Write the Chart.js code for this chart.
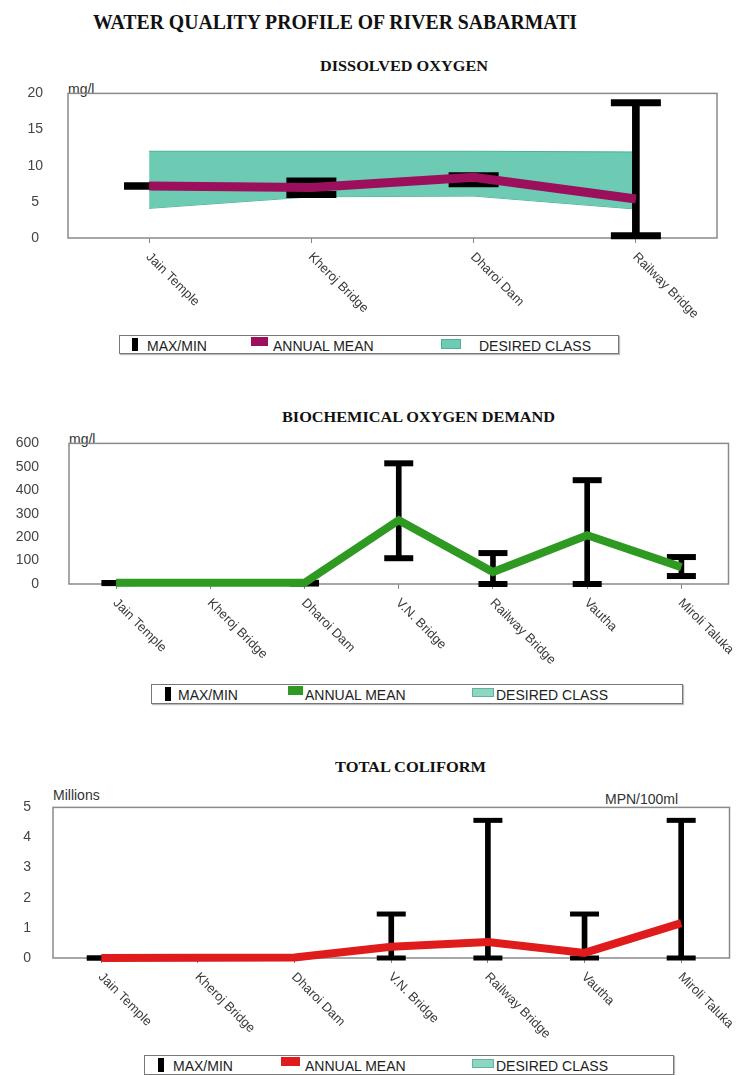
<!DOCTYPE html>
<html>
<head>
<meta charset="utf-8">
<script src="https://cdn.jsdelivr.net/npm/chart.js@4.4.1/dist/chart.umd.min.js"></script>
<style>
body { margin:0; background:#fff; width:749px; height:1075px; position:relative; overflow:hidden; font-family:'Liberation Sans', Arial, sans-serif; }
canvas { position:absolute; }
.ttl { position:absolute; font-family:'Liberation Serif', 'Times New Roman', serif; font-weight:bold; line-height:1; white-space:nowrap; transform-origin:0 0; color:#111; }
.unit { position:absolute; font-size:14px; line-height:1; color:#333; white-space:nowrap; }
.lg { position:absolute; border:1px solid #777; box-shadow:1px 1px 1px #bbb; background:#fff; }
.lg span { position:absolute; font-size:14px; line-height:1; top:3px; color:#222; white-space:nowrap; }
.lg i { position:absolute; display:block; }
</style>
</head>
<body>

<div class="ttl" id="t0" style="left:93px;top:11px;font-size:22px;">WATER QUALITY PROFILE OF RIVER SABARMATI</div>

<div class="ttl" id="t1" style="left:320px;top:59px;font-size:15px;">DISSOLVED OXYGEN</div>
<div class="unit" style="left:68px;top:82px;">mg/l</div>
<canvas id="c1" width="749" height="270" style="left:0;top:60px;"></canvas>
<div class="lg" style="left:119px;top:335px;width:498px;height:17px;">
  <i style="left:12px;top:2px;width:6px;height:13px;background:#000;"></i><span style="left:27px;">MAX/MIN</span>
  <i style="left:131px;top:1px;width:17px;height:9px;background:#9c0f5c;"></i><span style="left:153px;">ANNUAL MEAN</span>
  <i style="left:321px;top:3px;width:18px;height:8px;background:#6ecbb3;border:1px solid #4fae96;"></i><span style="left:359px;">DESIRED CLASS</span>
</div>

<div class="ttl" id="t2" style="left:282px;top:410px;font-size:15px;">BIOCHEMICAL OXYGEN DEMAND</div>
<div class="unit" style="left:69px;top:432px;">mg/l</div>
<canvas id="c2" width="749" height="275" style="left:0;top:405px;"></canvas>
<div class="lg" style="left:151px;top:684px;width:530px;height:18px;">
  <i style="left:13px;top:2px;width:6px;height:14px;background:#000;"></i><span style="left:26px;">MAX/MIN</span>
  <i style="left:136px;top:1px;width:15px;height:9px;background:#2f9a22;"></i><span style="left:153px;">ANNUAL MEAN</span>
  <i style="left:320px;top:3px;width:20px;height:7px;background:#8fd6c2;border:1px solid #5fb49c;"></i><span style="left:344px;">DESIRED CLASS</span>
</div>

<div class="ttl" id="t3" style="left:335px;top:760px;font-size:15px;">TOTAL COLIFORM</div>
<div class="unit" style="left:53px;top:788px;">Millions</div>
<div class="unit" style="left:605px;top:792px;">MPN/100ml</div>
<canvas id="c3" width="749" height="273" style="left:0;top:777px;"></canvas>
<div class="lg" style="left:144px;top:1055px;width:528px;height:18px;">
  <i style="left:13px;top:2px;width:6px;height:14px;background:#000;"></i><span style="left:28px;">MAX/MIN</span>
  <i style="left:136px;top:1px;width:19px;height:9px;background:#e01b1b;"></i><span style="left:160px;">ANNUAL MEAN</span>
  <i style="left:327px;top:3px;width:20px;height:7px;background:#8fd6c2;border:1px solid #5fb49c;"></i><span style="left:351px;">DESIRED CLASS</span>
</div>

<script>
// sampling stations
var doSites = ['Jain Temple', 'Kheroj Bridge', 'Dharoi Dam', 'Railway Bridge'];
var allSites = ['Jain Temple', 'Kheroj Bridge', 'Dharoi Dam', 'V.N. Bridge', 'Railway Bridge', 'Vautha', 'Miroli Taluka'];

// dissolved oxygen, mg/l
var doMean = [7.2, 7.0, 8.4, 5.4];
var doMax = [7.2, 7.9, 8.6, 18.7];
var doMin = [7.2, 6.0, 7.5, 0.3];
var doClassHigh = [12.0, 12.0, 12.0, 11.9];
var doClassLow = [4.1, 5.7, 5.8, 4.0];
var doAxis = [0, 20, 5];   // min, max, step

// biochemical oxygen demand, mg/l
var bodMean = [5, 5, 5, 272, 51, 208, 72];
var bodMax = [4, null, 5, 515, 132, 443, 115];
var bodMin = [4, null, 2, 110, 0, 0, 34];
var bodAxis = [0, 600, 100];

// total coliform, millions MPN/100ml
var tcMean = [0, 0.01, 0.02, 0.37, 0.53, 0.17, 1.16];
var tcMax = [0, null, null, 1.46, 4.57, 1.46, 4.57];
var tcMin = [0, null, null, 0, 0, 0, 0];
var tcAxis = [0, 5, 1];

var FONT = '"Liberation Sans", Arial, sans-serif';

// fit the serif headings to the width they have in the print
function fitWidth(id, w) {
	var el = document.getElementById(id);
	var cur = el.getBoundingClientRect().width;
	el.style.transform = 'scaleX(' + (w / cur) + ')';
}
fitWidth('t0', 484);
fitWidth('t1', 168);
fitWidth('t2', 273);
fitWidth('t3', 151);

var plotBox = {
	id: 'plotBox',
	beforeDatasetsDraw: function(chart) {
		var a = chart.chartArea, ctx = chart.ctx;
		ctx.save();
		ctx.strokeStyle = '#8a8a8a';
		ctx.lineWidth = 1.5;
		ctx.strokeRect(a.left, a.top, a.right - a.left, a.bottom - a.top);
		ctx.restore();
	}
};

// category labels run down to the right from each tick
var slantLabels = {
	id: 'slantLabels',
	afterDraw: function(chart) {
		var xs = chart.scales.x, ctx = chart.ctx, y0 = chart.chartArea.bottom;
		ctx.save();
		ctx.font = '13px ' + FONT;
		ctx.fillStyle = '#3a3a3a';
		ctx.textAlign = 'left';
		ctx.textBaseline = 'middle';
		chart.data.labels.forEach(function(lab, i) {
			var px = xs.getPixelForValue(i);
			ctx.save();
			ctx.translate(px - 1, y0 + 17);
			ctx.rotate(Math.PI / 4);
			ctx.fillText(lab, 0, 0);
			ctx.restore();
		});
		ctx.restore();
	}
};

function buildChart(id, p) {
	var datasets = [];
	if (p.classHigh) {
		datasets.push({ type: 'line', data: p.classHigh, borderColor: '#4fae96', borderWidth: 1,
			backgroundColor: '#6ecbb3', fill: '+1', pointRadius: 0, tension: 0, order: 5 });
		datasets.push({ type: 'line', data: p.classLow, borderColor: '#4fae96', borderWidth: 1,
			fill: false, pointRadius: 0, tension: 0, order: 5 });
	}
	var ranges = p.max.map(function(v, i) { return v === null ? null : [p.min[i], v]; });
	datasets.push({ type: 'bar', data: ranges, backgroundColor: '#000', barThickness: p.barW,
		grouped: false, clip: false, order: 3 });
	[p.max, p.min].forEach(function(arr) {
		datasets.push({ type: 'line', data: arr, showLine: false, pointStyle: 'line',
			pointRadius: p.capR, pointHoverRadius: p.capR, pointBorderWidth: p.capT,
			pointBorderColor: '#000', clip: false, order: 2 });
	});
	datasets.push({ type: 'line', data: p.mean, borderColor: p.color, borderWidth: p.lineW,
		pointRadius: 0, tension: 0, fill: false, borderJoinStyle: 'miter', clip: false, order: 1 });

	// top of the plot comes from the y tick padding plus half a label, so the canvas is placed for it
	return new Chart(document.getElementById(id), {
		type: 'bar',
		data: { labels: p.labels, datasets: datasets },
		options: {
			responsive: false,
			animation: false,
			events: [],
			layout: { padding: { top: 0, right: p.padRight, left: 0, bottom: 0 } },
			plugins: { legend: { display: false }, tooltip: { enabled: false } },
			scales: {
				x: {
					offset: true,
					grid: { display: true, drawOnChartArea: false, offset: false, tickLength: 5, color: '#888' },
					border: { display: false },
					ticks: { display: false },
					afterFit: function(s) { s.height = p.xH; }
				},
				y: {
					min: p.axis[0], max: p.axis[1],
					ticks: { stepSize: p.axis[2], autoSkip: false, padding: p.tickPad, crossAlign: p.align,
						color: '#444', font: { family: FONT, size: 14 } },
					grid: { display: false, drawTicks: false },
					border: { display: false },
					afterFit: function(s) { s.width = p.yW; }
				}
			}
		},
		plugins: [plotBox, slantLabels]
	});
}

buildChart('c1', { labels: doSites, mean: doMean, max: doMax, min: doMin,
	classHigh: doClassHigh, classLow: doClassLow, axis: doAxis, color: '#9c0f5c', lineW: 9,
	barW: 7, capR: 25, capT: 7, yW: 68, padRight: 30, xH: 92, tickPad: 25, align: 'center' });

buildChart('c2', { labels: allSites, mean: bodMean, max: bodMax, min: bodMin,
	axis: bodAxis, color: '#2f9a22', lineW: 8,
	barW: 5, capR: 14.5, capT: 6, yW: 69, padRight: 11, xH: 96, tickPad: 30, align: 'near' });

buildChart('c3', { labels: allSites, mean: tcMean, max: tcMax, min: tcMin,
	axis: tcAxis, color: '#e01b1b', lineW: 8,
	barW: 5, capR: 14.5, capT: 5, yW: 53, padRight: 14, xH: 92, tickPad: 22, align: 'near' });
</script>
</body>
</html>
